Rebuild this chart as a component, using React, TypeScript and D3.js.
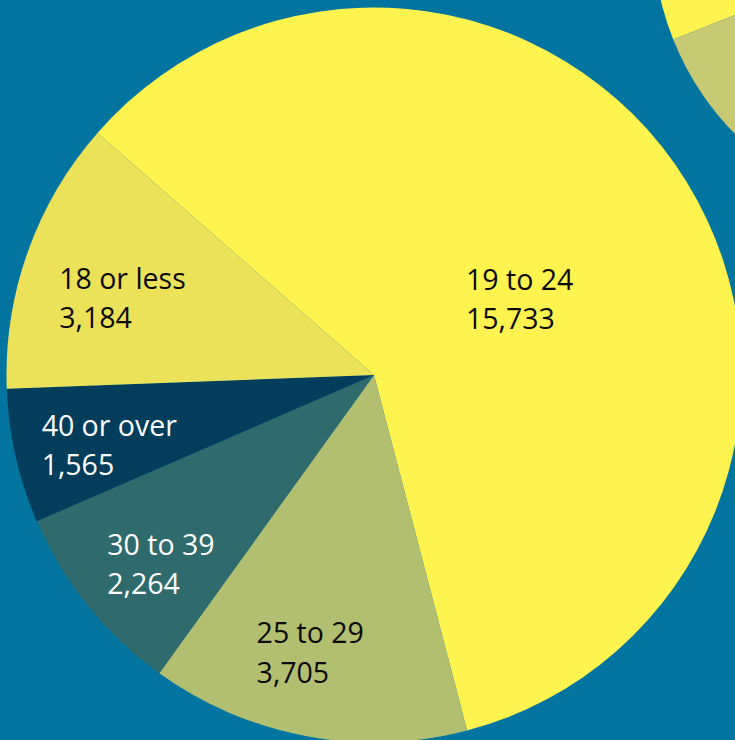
import * as d3 from 'd3';
import React from 'react';

// Students by age group (main pie).
const ageGroups: string[] = ['19 to 24', '25 to 29', '30 to 39', '40 or over', '18 or less'];
const studentCounts: number[] = [15733, 3705, 2264, 1565, 3184];
const sliceColors: string[] = ['#fff350', '#b2bf70', '#2f6b6c', '#023e5b', '#ebe25a'];
const labelColors: string[] = ['#0a0a0a', '#0a0a0a', '#ffffff', '#ffffff', '#0a0a0a'];

// Neighbouring pie peeking in at the top right corner.
const nextPieColors: string[] = ['#fff350', '#c7c973', '#2f6b6c', '#023e5b', '#ebe25a'];

// Small hand nudges for label blocks, relative to the slice centroid (px).
const labelNudge: [number, number][] = [
    [5, 11],
    [-13, 5],
    [3, 15],
    [6, 9],
    [10, 16],
];

type Datum = { group: string; count: number; idx: number };

const App = (): React.ReactElement => {
    const [width] = React.useState<number>(735);
    const [height] = React.useState<number>(740);

    const chartRef = React.useRef<SVGSVGElement>(null);

    React.useEffect(() => {
        const svg = d3.select(chartRef.current);
        svg.selectAll('*').remove();

        svg.append('rect')
            .attr('width', width)
            .attr('height', height)
            .attr('fill', '#0174a0');

        const toRad = (deg: number) => (deg * Math.PI) / 180;
        const data: Datum[] = ageGroups.map((g, i) => ({ group: g, count: studentCounts[i], idx: i }));

        // Neighbour pie, drawn counter-clockwise, mostly off canvas.
        const nextRadius = 285;
        const nextStart = toRad(248.3 + 214.1);
        const nextPie = d3
            .pie<Datum>()
            .value((d) => d.count)
            .sort(null)
            .startAngle(nextStart)
            .endAngle(nextStart - 2 * Math.PI);
        const nextArc = d3.arc<d3.PieArcDatum<Datum>>().innerRadius(0).outerRadius(nextRadius);
        svg.append('g')
            .attr('transform', 'translate(938, -66)')
            .selectAll('path')
            .data(nextPie(data))
            .enter()
            .append('path')
            .attr('d', (d) => nextArc(d) as string)
            .attr('fill', (d) => nextPieColors[d.data.idx]);

        // Main pie.
        const radius = 367.5;
        const start = toRad(-48.8);
        const pie = d3
            .pie<Datum>()
            .value((d) => d.count)
            .sort(null)
            .startAngle(start)
            .endAngle(start + 2 * Math.PI);
        const arc = d3.arc<d3.PieArcDatum<Datum>>().innerRadius(0).outerRadius(radius);
        const arcs = pie(data);

        const main = svg.append('g').attr('transform', 'translate(374, 375)');
        main.selectAll('path')
            .data(arcs)
            .enter()
            .append('path')
            .attr('d', (d) => arc(d) as string)
            .attr('fill', (d) => sliceColors[d.data.idx]);

        // Labels: two lines, left aligned, block centred on the slice centroid.
        const fmt = d3.format(',');
        const lineGap = 39.5;
        arcs.forEach((d) => {
            const share = (d.endAngle - d.startAngle) / (2 * Math.PI);
            const r = share > 0.5 ? radius * 0.45 : radius * 0.755;
            const labelArc = d3.arc<d3.PieArcDatum<Datum>>().innerRadius(r).outerRadius(r);
            const [cx, cy] = labelArc.centroid(d);
            const [nx, ny] = labelNudge[d.data.idx];
            const g = main.append('g');
            const text = g
                .append('text')
                .attr('font-family', '"Open Sans", "Noto Sans", sans-serif')
                .attr('font-size', 28.5)
                .attr('fill', labelColors[d.data.idx]);
            text.append('tspan').attr('x', 0).attr('y', 0).text(d.data.group);
            text.append('tspan').attr('x', 0).attr('y', lineGap).text(fmt(d.data.count));
            const box = (text.node() as SVGTextElement).getBBox();
            const capTop = -20.5;
            const midY = (capTop + lineGap) / 2;
            g.attr('transform', `translate(${cx - box.width / 2 + nx}, ${cy - midY + ny})`);
        });
    }, [chartRef, width, height]);

    return (
        <div>
            <svg
                ref={chartRef}
                width={width}
                height={height}
                style={{ position: 'absolute', left: 0, top: 0, display: 'block' }}
            ></svg>
        </div>
    );
};

export default App;
